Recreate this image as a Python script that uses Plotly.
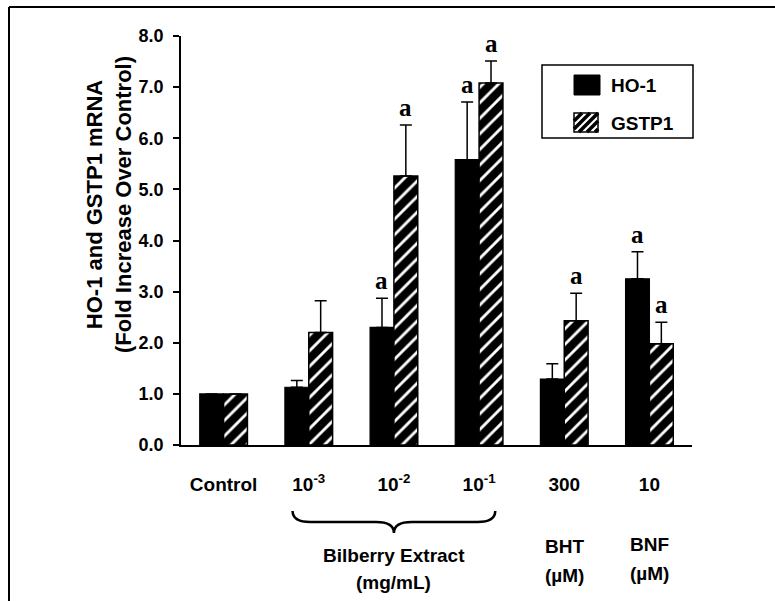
import plotly.graph_objects as go

categories = ["Control", "10<sup>-3</sup>", "10<sup>-2</sup>", "10<sup>-1</sup>", "300", "10"]
ho1 = [1.0, 1.13, 2.30, 5.58, 1.29, 3.25]
ho1_err = [0.0, 0.13, 0.57, 1.13, 0.30, 0.53]
gstp1 = [1.0, 2.20, 5.26, 7.08, 2.43, 1.98]
gstp1_err = [0.0, 0.62, 1.00, 0.43, 0.54, 0.42]
ho1_sig = [False, False, True, True, False, True]
gstp1_sig = [False, False, True, True, True, True]
y_ticks = [0, 1, 2, 3, 4, 5, 6, 7, 8]

FONT = "Liberation Sans"
SERIF = "Liberation Serif"
BARGAP = 0.44

L, R, T, B = 181, 83, 36, 156
W, H = 775, 601
PW, PH = W - L - R, H - T - B


def px(xp):
    return (xp - L) / PW


def py(yp):
    return (H - B - yp) / PH


def cat_paper(i):
    return (i + 0.5) / len(categories)


fig = go.Figure()
fig.add_trace(go.Bar(
    name="HO-1", x=list(range(len(categories))), y=ho1,
    marker=dict(color="black", line=dict(color="black", width=1.2)),
    error_y=dict(type="data", array=ho1_err, arrayminus=[0] * len(ho1),
                 symmetric=False, color="black", thickness=1.5, width=6,
                 visible=True),
    showlegend=False,
))
fig.add_trace(go.Bar(
    name="GSTP1", x=list(range(len(categories))), y=gstp1,
    marker=dict(color="white", line=dict(color="black", width=1.5),
                pattern=dict(shape="/", fgcolor="black", fgopacity=1, bgcolor="white",
                             size=11, solidity=0.74)),
    error_y=dict(type="data", array=gstp1_err, arrayminus=[0] * len(gstp1),
                 symmetric=False, color="black", thickness=1.5, width=6,
                 visible=True),
    showlegend=False,
))

annotations = []
off = (1 - BARGAP) / 4
afont = dict(family=SERIF, size=25, color="black", weight="bold")
for i, (v, e, s) in enumerate(zip(ho1, ho1_err, ho1_sig)):
    if s:
        annotations.append(dict(x=i - off, y=v + e, xref="x", yref="y", text="a",
                                showarrow=False, yanchor="bottom", yshift=2, font=afont))
for i, (v, e, s) in enumerate(zip(gstp1, gstp1_err, gstp1_sig)):
    if s:
        annotations.append(dict(x=i + off, y=v + e, xref="x", yref="y", text="a",
                                showarrow=False, yanchor="bottom", yshift=2, font=afont))

bold = dict(family=FONT, size=19, color="black", weight="bold")
# y-axis title
annotations.append(dict(x=px(109), y=py(205), xref="paper", yref="paper",
                        text="HO-1 and GSTP1 mRNA<br>(Fold Increase Over Control)",
                        textangle=-90, showarrow=False, xanchor="center", yanchor="middle",
                        font=dict(family=FONT, size=22, color="black", weight="bold")))


def lab(i, ypix, text):
    annotations.append(dict(x=cat_paper(i), y=py(ypix), xref="paper", yref="paper",
                            text=text, showarrow=False, xanchor="center",
                            yanchor="middle", font=bold))


lab(2, 555, "Bilberry Extract")
lab(2, 582, "(mg/mL)")
lab(4, 546, "BHT")
lab(4, 575, "(µM)")
lab(5, 544, "BNF")
lab(5, 573, "(µM)")

# legend text
lfont = dict(family=FONT, size=19, color="black", weight="bold")
annotations.append(dict(x=px(609), y=py(85), xref="paper", yref="paper", text="HO-1",
                        showarrow=False, xanchor="left", yanchor="middle", font=lfont))
annotations.append(dict(x=px(609), y=py(123), xref="paper", yref="paper", text="GSTP1",
                        showarrow=False, xanchor="left", yanchor="middle", font=lfont))

shapes = []
# outer frame (top and left)
shapes.append(dict(type="line", xref="paper", yref="paper", x0=px(9), x1=px(775),
                   y0=py(7), y1=py(7), line=dict(color="black", width=2)))
shapes.append(dict(type="line", xref="paper", yref="paper", x0=px(9), x1=px(9),
                   y0=py(7), y1=py(601), line=dict(color="black", width=2)))
# legend box
shapes.append(dict(type="rect", xref="paper", yref="paper", x0=px(542), x1=px(693),
                   y0=py(138), y1=py(65), line=dict(color="black", width=1.5),
                   fillcolor="rgba(0,0,0,0)"))
shapes.append(dict(type="rect", xref="paper", yref="paper", x0=px(574), x1=px(600),
                   y0=py(95), y1=py(75), line=dict(color="black", width=1),
                   fillcolor="black"))
shapes.append(dict(type="rect", xref="paper", yref="paper", x0=px(574), x1=px(598),
                   y0=py(132), y1=py(113), line=dict(color="black", width=1.5),
                   fillcolor="white"))
# hatch lines inside legend swatch
hx0, hx1, hy0, hy1 = 574, 598, 113, 132
step = 8
k = hx0 - (hy1 - hy0)
while k < hx1:
    xa, ya = k, hy1
    xb, yb = k + (hy1 - hy0), hy0
    if xa < hx0:
        ya = hy1 - (hx0 - xa)
        xa = hx0
    if xb > hx1:
        yb = hy0 + (xb - hx1)
        xb = hx1
    if xa < xb:
        shapes.append(dict(type="line", xref="paper", yref="paper",
                           x0=px(xa), y0=py(ya), x1=px(xb), y1=py(yb),
                           line=dict(color="black", width=3.5)))
    k += step

# curly brace under Bilberry extract groups
bx0 = cat_paper(1) - 0.19 / len(categories)
bx1 = cat_paper(3) + 0.19 / len(categories)
bxc = cat_paper(2)
ytop, ymid, ytip = py(511), py(522), py(533)
d = 0.035
path = (f"M {bx0},{ytop} Q {bx0},{ymid} {bx0 + d},{ymid} L {bxc - d},{ymid} "
        f"Q {bxc},{ymid} {bxc},{ytip} Q {bxc},{ymid} {bxc + d},{ymid} "
        f"L {bx1 - d},{ymid} Q {bx1},{ymid} {bx1},{ytop}")
shapes.append(dict(type="path", xref="paper", yref="paper", path=path,
                   line=dict(color="black", width=2.5)))

fig.update_layout(
    width=W, height=H,
    margin=dict(l=L, r=R, t=T, b=B, pad=0),
    paper_bgcolor="white", plot_bgcolor="white",
    barmode="group", bargap=BARGAP, bargroupgap=0,
    annotations=annotations, shapes=shapes,
    showlegend=False,
    xaxis=dict(
        tickmode="array", tickvals=list(range(len(categories))), ticktext=categories,
        range=[-0.5, len(categories) - 0.5], showline=True, linecolor="black", linewidth=1.5,
        ticks="", showgrid=False, zeroline=False, ticklabelstandoff=21,
        tickfont=dict(family=FONT, size=19, color="black", weight="bold"),
    ),
    yaxis=dict(
        range=[0, 8], tickmode="array", tickvals=y_ticks,
        ticktext=[f"{v:.1f}" for v in y_ticks],
        showline=True, linecolor="black", linewidth=1.5, ticks="outside", ticklen=6,
        tickwidth=1.5, tickcolor="black", showgrid=False, zeroline=False,
        ticklabelstandoff=6,
        tickfont=dict(family=FONT, size=18, color="black", weight="bold"),
    ),
)

fig.write_html("out.html")
